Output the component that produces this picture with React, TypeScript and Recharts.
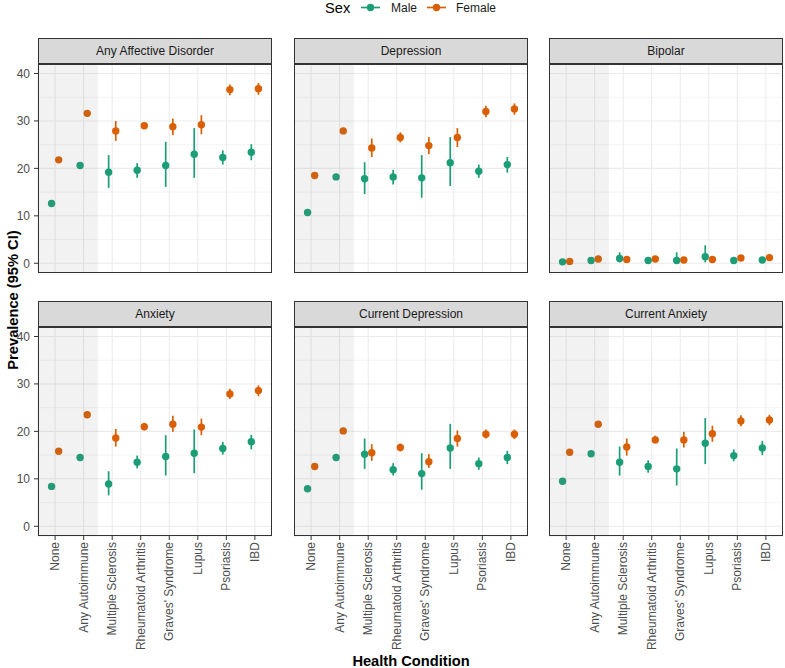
import React from 'react';
import {
  ScatterChart,
  Scatter,
  XAxis,
  YAxis,
  CartesianGrid,
  ErrorBar,
  ReferenceArea,
  ReferenceLine,
} from 'recharts';

const categories = [
  'None',
  'Any Autoimmune',
  'Multiple Sclerosis',
  'Rheumatoid Arthritis',
  "Graves' Syndrome",
  'Lupus',
  'Psoriasis',
  'IBD',
];

const panels = [
  'Any Affective Disorder',
  'Depression',
  'Bipolar',
  'Anxiety',
  'Current Depression',
  'Current Anxiety',
];

const yTicks = [0, 10, 20, 30, 40];
const minorTicks = [5, 15, 25, 35];

// one row per panel, one value per category
const maleEst = [
  [12.6, 20.6, 19.2, 19.6, 20.6, 23.0, 22.3, 23.4],
  [10.7, 18.2, 17.8, 18.2, 18.0, 21.2, 19.4, 20.8],
  [0.3, 0.6, 1.0, 0.6, 0.6, 1.4, 0.6, 0.7],
  [8.4, 14.5, 8.9, 13.5, 14.7, 15.4, 16.4, 17.8],
  [7.9, 14.5, 15.2, 11.9, 11.1, 16.5, 13.2, 14.5],
  [9.5, 15.3, 13.5, 12.6, 12.1, 17.5, 14.9, 16.5],
];
const maleLo = [
  [12.3, 20.1, 15.9, 18.0, 16.1, 18.0, 20.8, 21.7],
  [10.4, 17.8, 14.6, 16.6, 13.8, 16.3, 18.0, 19.1],
  [0.2, 0.4, 0.2, 0.3, 0.0, 0.2, 0.4, 0.4],
  [8.1, 14.0, 6.5, 12.2, 10.7, 11.2, 15.1, 16.2],
  [7.6, 14.0, 12.1, 10.7, 7.7, 12.1, 11.9, 13.1],
  [9.2, 14.8, 10.7, 11.3, 8.6, 13.1, 13.7, 15.0],
];
const maleHi = [
  [12.9, 21.1, 22.8, 21.1, 25.6, 28.5, 23.8, 25.1],
  [11.0, 18.6, 21.3, 19.7, 22.8, 26.6, 20.8, 22.4],
  [0.4, 0.8, 2.3, 1.0, 2.3, 3.8, 0.9, 1.1],
  [8.7, 15.0, 11.6, 14.9, 19.2, 20.4, 17.8, 19.3],
  [8.2, 15.0, 18.5, 13.3, 15.4, 21.6, 14.5, 15.9],
  [9.8, 15.8, 16.8, 13.9, 16.4, 22.8, 16.2, 18.0],
];
const femaleEst = [
  [21.8, 31.6, 27.9, 29.0, 28.8, 29.2, 36.6, 36.8],
  [18.5, 27.9, 24.3, 26.5, 24.8, 26.5, 32.0, 32.5],
  [0.4, 0.9, 0.8, 0.9, 0.7, 0.8, 1.1, 1.2],
  [15.8, 23.5, 18.6, 21.0, 21.5, 20.9, 27.9, 28.6],
  [12.6, 20.1, 15.5, 16.6, 13.6, 18.5, 19.4, 19.4],
  [15.6, 21.5, 16.7, 18.2, 18.2, 19.5, 22.2, 22.4],
];
const femaleLo = [
  [21.5, 31.1, 25.8, 28.3, 27.0, 27.2, 35.4, 35.5],
  [18.2, 27.4, 22.4, 25.5, 23.0, 24.5, 30.8, 31.3],
  [0.3, 0.7, 0.5, 0.7, 0.5, 0.5, 0.9, 1.0],
  [15.5, 23.0, 16.8, 20.2, 19.9, 19.2, 26.8, 27.4],
  [12.3, 19.6, 13.8, 15.8, 12.3, 16.8, 18.5, 18.4],
  [15.3, 21.0, 14.9, 17.5, 16.6, 17.8, 21.1, 21.3],
];
const femaleHi = [
  [22.1, 32.1, 30.0, 29.7, 30.5, 31.2, 37.7, 38.0],
  [18.8, 28.4, 26.3, 27.6, 26.6, 28.5, 33.2, 33.7],
  [0.5, 1.1, 1.1, 1.1, 0.9, 1.1, 1.3, 1.4],
  [16.1, 24.0, 20.5, 21.8, 23.3, 22.7, 29.0, 29.7],
  [12.9, 20.6, 17.3, 17.4, 15.2, 20.2, 20.4, 20.4],
  [15.9, 22.0, 18.5, 19.1, 19.9, 21.2, 23.4, 23.5],
];

const MALE = '#1B9E77';
const FEMALE = '#D95F02';
const FONT = '"Liberation Sans", Arial, Helvetica, sans-serif';

const colLeft = [38, 294, 549];
const rowTop = [64, 327];
const plotW = 234;
const plotH = 209;
const yAxisW = 38;
const xAxisH = 125;
const dodge = 0.125;

const buildSeries = (
  est: number[][],
  lo: number[][],
  hi: number[][],
  p: number,
  offset: number
) =>
  categories.map((c, j) => ({
    x: j + 1 + offset,
    y: est[p][j],
    err: [est[p][j] - lo[p][j], hi[p][j] - est[p][j]],
  }));

const RotatedTick = (props: any) => {
  const { x, y, payload } = props;
  return (
    <text
      x={x}
      y={y}
      transform={`rotate(-90 ${x} ${y})`}
      textAnchor='end'
      dominantBaseline='central'
      fontSize={12}
      fill='#4D4D4D'
    >
      {categories[payload.value - 1]}
    </text>
  );
};

const dot = (color: string) => (props: any) =>
  <circle cx={props.cx} cy={props.cy} r={3.7} fill={color} />;

const Panel = ({ p }: { p: number }) => {
  const row = Math.floor(p / 3);
  const col = p % 3;
  const isLeft = col === 0;
  const isBottom = row === 1;
  const male = buildSeries(maleEst, maleLo, maleHi, p, -dodge);
  const female = buildSeries(femaleEst, femaleLo, femaleHi, p, dodge);

  return (
    <div
      style={{
        position: 'absolute',
        left: colLeft[col] - (isLeft ? yAxisW : 0),
        top: rowTop[row],
      }}
    >
      <ScatterChart
        width={plotW + (isLeft ? yAxisW : 0)}
        height={plotH + (isBottom ? xAxisH : 0)}
        margin={{ top: 0, right: 0, bottom: 0, left: 0 }}
      >
        <CartesianGrid stroke='#EBEBEB' strokeWidth={1.07} />
        {minorTicks.map((v) => (
          <ReferenceLine
            key={v}
            y={v}
            stroke='#EBEBEB'
            strokeWidth={0.55}
          />
        ))}
        <XAxis
          type='number'
          dataKey='x'
          domain={[0.4, 8.6]}
          ticks={[1, 2, 3, 4, 5, 6, 7, 8]}
          interval={0}
          allowDataOverflow
          hide={!isBottom}
          height={xAxisH}
          axisLine={false}
          tickLine={{ stroke: '#333333' }}
          tickSize={4}
          tickMargin={2}
          tick={<RotatedTick />}
        />
        <YAxis
          type='number'
          dataKey='y'
          domain={[-2.05, 42]}
          ticks={yTicks}
          allowDataOverflow
          hide={!isLeft}
          width={yAxisW}
          axisLine={false}
          tickLine={{ stroke: '#333333' }}
          tickSize={4}
          tickMargin={4}
          tick={{ fontSize: 12, fill: '#4D4D4D' }}
        />
        <Scatter
          data={male}
          shape={dot(MALE)}
          isAnimationActive={false}
        >
          <ErrorBar
            dataKey='err'
            direction='y'
            width={0}
            stroke={MALE}
            strokeWidth={1.7}
            isAnimationActive={false}
          />
        </Scatter>
        <Scatter
          data={female}
          shape={dot(FEMALE)}
          isAnimationActive={false}
        >
          <ErrorBar
            dataKey='err'
            direction='y'
            width={0}
            stroke={FEMALE}
            strokeWidth={1.7}
            isAnimationActive={false}
          />
        </Scatter>
        <ReferenceArea
          x1={0.4}
          x2={2.5}
          fill='#7F7F7F'
          fillOpacity={0.1}
          stroke='none'
          zIndex={700}
        />
      </ScatterChart>
    </div>
  );
};

const Overlay = () => (
  <svg
    width={785}
    height={668}
    style={{ position: 'absolute', left: 0, top: 0, pointerEvents: 'none' }}
  >
    {panels.map((name, p) => {
      const left = colLeft[p % 3];
      const top = rowTop[Math.floor(p / 3)];
      return (
        <g key={name}>
          <rect
            x={left + 0.5}
            y={top - 25.5}
            width={plotW - 1}
            height={25}
            fill='#D9D9D9'
            stroke='#333333'
          />
          <text
            x={left + plotW / 2}
            y={top - 13}
            textAnchor='middle'
            dominantBaseline='central'
            fontSize={12}
            fill='#1A1A1A'
          >
            {name}
          </text>
          <rect
            x={left + 0.5}
            y={top + 0.5}
            width={plotW - 1}
            height={plotH - 1}
            fill='none'
            stroke='#333333'
          />
        </g>
      );
    })}

    {/* legend */}
    <text x={325} y={7.5} dominantBaseline='central' fontSize={14.67} fill='#000'>
      Sex
    </text>
    <line x1={361} x2={380} y1={7.5} y2={7.5} stroke={MALE} strokeWidth={1.7} />
    <circle cx={370.5} cy={7.5} r={3.7} fill={MALE} />
    <text x={391} y={7.5} dominantBaseline='central' fontSize={12} fill='#1A1A1A'>
      Male
    </text>
    <line x1={427} x2={446} y1={7.5} y2={7.5} stroke={FEMALE} strokeWidth={1.7} />
    <circle cx={436.5} cy={7.5} r={3.7} fill={FEMALE} />
    <text x={456} y={7.5} dominantBaseline='central' fontSize={12} fill='#1A1A1A'>
      Female
    </text>

    {/* axis titles */}
    <text
      x={13}
      y={300}
      transform='rotate(-90 13 300)'
      textAnchor='middle'
      dominantBaseline='central'
      fontSize={14.67}
      fontWeight='bold'
      fill='#000'
    >
      Prevalence (95% CI)
    </text>
    <text
      x={411}
      y={666}
      textAnchor='middle'
      fontSize={14.67}
      fontWeight='bold'
      fill='#000'
    >
      Health Condition
    </text>
  </svg>
);

export default function App() {
  return (
    <div
      style={{
        position: 'absolute',
        left: 0,
        top: 0,
        width: 785,
        height: 668,
        background: '#fff',
        fontFamily: FONT,
      }}
    >
      {panels.map((name, p) => (
        <Panel key={name} p={p} />
      ))}
      <Overlay />
    </div>
  );
}
